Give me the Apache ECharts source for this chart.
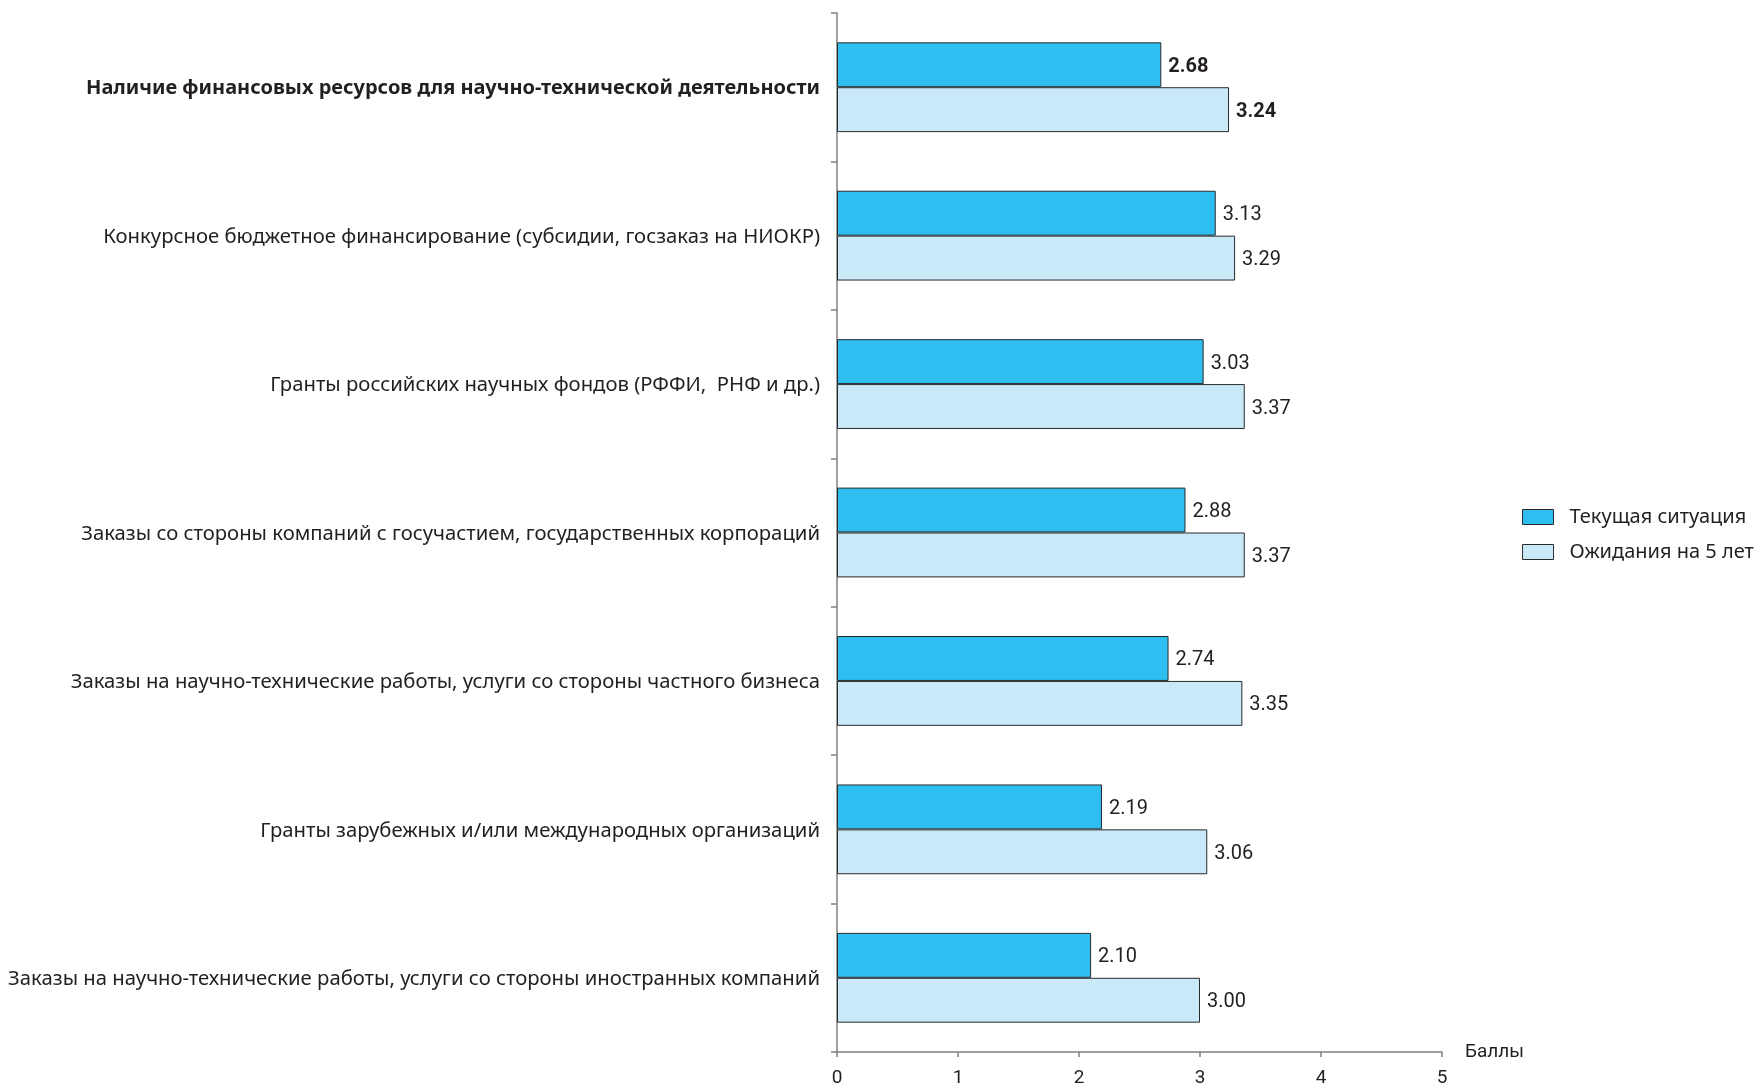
<!DOCTYPE html>
<html>
<head>
<meta charset="utf-8">
<script src="https://cdn.jsdelivr.net/npm/echarts@6/dist/echarts.min.js"></script>
<style>
html,body{margin:0;padding:0;background:#fff;}
#chart{width:1758px;height:1088px;}
</style>
</head>
<body>
<div id="chart"></div>
<script>
const categories = [
  'Наличие финансовых ресурсов для научно-технической деятельности',
  'Конкурсное бюджетное финансирование (субсидии, госзаказ на НИОКР)',
  'Гранты российских научных фондов (РФФИ,  РНФ и др.)',
  'Заказы со стороны компаний с госучастием, государственных корпораций',
  'Заказы на научно-технические работы, услуги со стороны частного бизнеса',
  'Гранты зарубежных и/или международных организаций',
  'Заказы на научно-технические работы, услуги со стороны иностранных компаний'
];
const currentValues = [2.68, 3.13, 3.03, 2.88, 2.74, 2.19, 2.10];
const expectedValues = [3.24, 3.29, 3.37, 3.37, 3.35, 3.06, 3.00];
const seriesNames = ['Текущая ситуация', 'Ожидания на 5 лет'];
const axisName = 'Баллы';

const TEXT = '#231f20';
const LABEL_FONT = "'Noto Sans', sans-serif";
const NUM_FONT = "Roboto, 'Liberation Sans', sans-serif";

function toData(vals) {
  return vals.map((v, i) => i === 0
    ? { value: v, label: { fontWeight: 'bold' } }
    : v);
}

const chart = echarts.init(document.getElementById('chart'), null, { renderer: 'canvas' });
chart.setOption({
  animation: false,
  backgroundColor: '#fff',
  grid: { left: 837, top: 13, width: 605, height: 1043, containLabel: false },
  legend: {
    orient: 'vertical',
    left: 1517,
    top: 502,
    itemWidth: 31,
    itemHeight: 15,
    itemGap: 15,
    icon: 'rect',
    data: seriesNames,
    textStyle: { fontFamily: LABEL_FONT, fontSize: 20, color: TEXT, padding: [0, 0, 0, 11] },
    itemStyle: { borderColor: '#2a2a2a', borderWidth: 1 }
  },
  xAxis: {
    type: 'value',
    min: 0, max: 5, interval: 1,
    name: axisName,
    nameLocation: 'end',
    nameGap: 23,
    nameTextStyle: { fontFamily: NUM_FONT, fontSize: 19, color: TEXT, padding: [0, 0, 8, 0] },
    axisLine: { show: true, lineStyle: { color: '#808080', width: 1.5 } },
    axisTick: { show: true, length: 5, lineStyle: { color: '#808080', width: 1.5 } },
    axisLabel: { fontFamily: NUM_FONT, fontSize: 19, color: TEXT, margin: 17 },
    splitLine: { show: false }
  },
  yAxis: {
    type: 'category',
    inverse: true,
    data: categories,
    axisLine: { show: true, lineStyle: { color: '#808080', width: 1.5 } },
    axisTick: { show: true, length: 6, lineStyle: { color: '#808080', width: 1.5 } },
    axisLabel: {
      margin: 17,
      fontFamily: LABEL_FONT,
      fontSize: 20.3,
      color: TEXT,
      padding: [3, 0, 0, 0],
      formatter: (v, i) => i === 0 ? '{b|' + v + '}' : v,
      rich: { b: { fontFamily: LABEL_FONT, fontSize: 20, fontWeight: 'bold', color: TEXT } }
    }
  },
  series: [
    {
      name: seriesNames[0],
      type: 'bar',
      data: toData(currentValues),
      barGap: '0%',
      barCategoryGap: '39.5%',
      itemStyle: { color: '#2ebef0', borderColor: '#2a2a2a', borderWidth: 1 },
      label: { show: true, position: 'right', distance: 7, offset: [0, 2], fontFamily: NUM_FONT, fontSize: 20, color: TEXT,
        formatter: p => p.value.toFixed(2) }
    },
    {
      name: seriesNames[1],
      type: 'bar',
      data: toData(expectedValues),
      barGap: '0%',
      barCategoryGap: '39.5%',
      itemStyle: { color: '#c9e9f8', borderColor: '#2a2a2a', borderWidth: 1 },
      label: { show: true, position: 'right', distance: 7, offset: [0, 2], fontFamily: NUM_FONT, fontSize: 20, color: TEXT,
        formatter: p => p.value.toFixed(2) }
    }
  ]
});
</script>
</body>
</html>
